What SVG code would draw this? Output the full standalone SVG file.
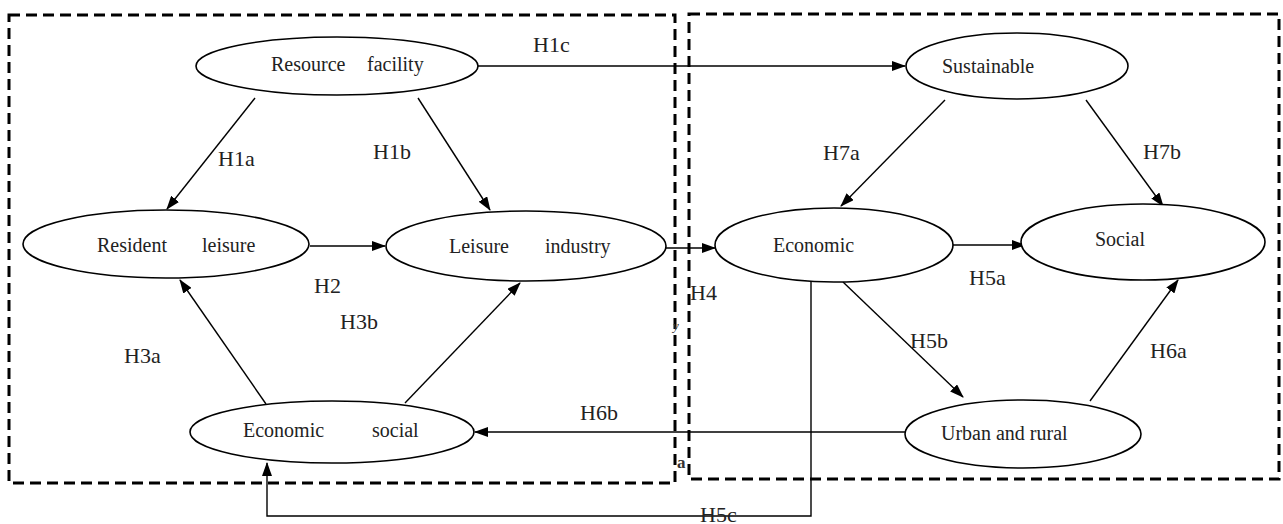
<svg xmlns="http://www.w3.org/2000/svg" width="1283" height="524" viewBox="0 0 1283 524">
<style>
.box{fill:none;stroke:#000;stroke-width:3;stroke-dasharray:11 6}
.node ellipse{fill:#fff;stroke:#000;stroke-width:1.6}
.node text{font-family:"Liberation Serif","Times New Roman",serif;font-size:20px;fill:#222}
.lbl{font-family:"Liberation Serif","Times New Roman",serif;font-size:22px;fill:#222}
#connectors line,#connectors path{fill:none;stroke:#000;stroke-width:1.4;marker-end:url(#ah)}
.stray{font-family:"Liberation Serif",serif;fill:#333}
</style>
<defs>
<marker id="ah" markerUnits="userSpaceOnUse" markerWidth="14" markerHeight="10" refX="13" refY="5" orient="auto">
<path d="M0,0 L14,5 L0,10 Z" fill="#000"/>
</marker>
</defs>
<rect width="1283" height="524" fill="#fff"/>
<g id="frames">
<rect class="box" x="9" y="15" width="666" height="468"/>
<rect class="box" x="689" y="14" width="590" height="465"/>
</g>
<g id="connectors">
<line x1="478" y1="66" x2="905" y2="66"/>
<line x1="255" y1="98" x2="167" y2="209"/>
<line x1="418" y1="98" x2="490" y2="210"/>
<line x1="310" y1="246" x2="385" y2="246"/>
<line x1="266" y1="404" x2="180" y2="280"/>
<line x1="405" y1="403" x2="520" y2="283"/>
<line x1="666" y1="248" x2="715" y2="248"/>
<line x1="945" y1="100" x2="841" y2="206"/>
<line x1="1086" y1="100" x2="1163" y2="206"/>
<line x1="953" y1="245" x2="1025" y2="245"/>
<line x1="843" y1="282" x2="963" y2="397"/>
<line x1="1090" y1="401" x2="1178" y2="280"/>
<line x1="905" y1="432" x2="475" y2="432"/>
<path d="M811,281 V516 H267 V463"/>
</g>
<g id="n-resource" class="node"><ellipse cx="337" cy="66" rx="141" ry="29"/><text y="71"><tspan x="271">Resource</tspan><tspan x="367">facility</tspan></text></g>
<g id="n-sustainable" class="node"><ellipse cx="1017" cy="66" rx="111" ry="33"/><text x="942" y="73">Sustainable</text></g>
<g id="n-resident" class="node"><ellipse cx="166" cy="244" rx="143" ry="34"/><text y="252"><tspan x="97">Resident</tspan><tspan x="202">leisure</tspan></text></g>
<g id="n-leisure" class="node"><ellipse cx="526" cy="246" rx="140" ry="35"/><text y="253"><tspan x="449">Leisure</tspan><tspan x="545">industry</tspan></text></g>
<g id="n-economic" class="node"><ellipse cx="834" cy="245" rx="119" ry="37"/><text x="773" y="252">Economic</text></g>
<g id="n-social" class="node"><ellipse cx="1143" cy="242" rx="122" ry="38"/><text x="1095" y="246">Social</text></g>
<g id="n-urban" class="node"><ellipse cx="1023" cy="434" rx="118" ry="34"/><text x="941" y="440">Urban and rural</text></g>
<g id="n-econsocial" class="node"><ellipse cx="332" cy="432" rx="142" ry="31"/><text y="437"><tspan x="243">Economic</tspan><tspan x="372">social</tspan></text></g>
<g id="labels">
<text class="lbl" x="533" y="52">H1c</text>
<text class="lbl" x="218" y="166">H1a</text>
<text class="lbl" x="373" y="159">H1b</text>
<text class="lbl" x="314" y="293">H2</text>
<text class="lbl" x="124" y="363">H3a</text>
<text class="lbl" x="340" y="329">H3b</text>
<text class="lbl" x="690" y="300">H4</text>
<text class="lbl" x="823" y="160">H7a</text>
<text class="lbl" x="1143" y="159">H7b</text>
<text class="lbl" x="969" y="285">H5a</text>
<text class="lbl" x="910" y="348">H5b</text>
<text class="lbl" x="1150" y="358">H6a</text>
<text class="lbl" x="580" y="420">H6b</text>
<text class="lbl" x="700" y="522">H5c</text>
<text class="stray" x="673" y="330" font-size="13" font-style="italic">y</text>
<text class="stray" x="677" y="468" font-size="17" font-weight="bold">a</text>
</g>
</svg>
